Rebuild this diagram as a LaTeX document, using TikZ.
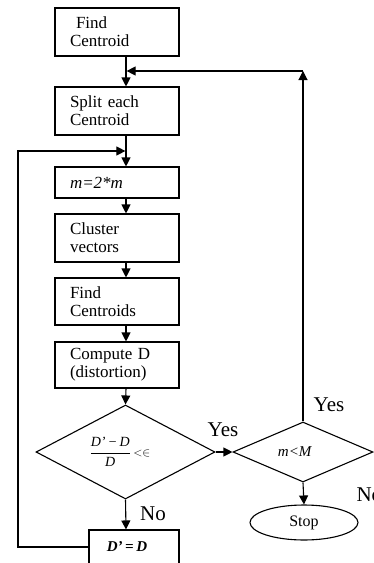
\documentclass[tikz,border=0pt]{standalone}
\usepackage{fontspec}
\setmainfont{Liberation Serif}
\usetikzlibrary{shapes.geometric,arrows.meta}
\begin{document}
\begin{tikzpicture}[x=1pt,y=-1pt,
  line width=1.1pt,
  arr/.style={-{Triangle[length=9pt,width=9pt]}},
  procbox/.style={draw, rectangle, text width=94pt, inner xsep=15pt, inner ysep=2pt, align=left,
    font=\fontsize{17}{18}\selectfont},
  decide/.style={draw, diamond, inner sep=0pt},
  termbox/.style={draw, ellipse, inner sep=0pt, minimum width=108pt, minimum height=35pt,
    font=\fontsize{16}{18}\selectfont},
  biglab/.style={font=\fontsize{21}{22}\selectfont, inner sep=0pt}
]
\useasboundingbox (0,0) rectangle (374,563);
\coordinate (ax) at (126,0);
\coordinate (tr) at (303,71);
\coordinate (tl) at (18,151);

\node[procbox, minimum height=48pt] (fc) at (117,32) {\hspace*{6pt}Find\\Centroid};
\node[procbox, minimum height=48pt] (sp) at (117,111) {Split each\\Centroid};
\node[procbox, minimum height=31pt] (mm) at (117,182.5) {\textit{m=2*m}};
\node[procbox, minimum height=48pt] (cl) at (117,238) {Cluster\\vectors};
\node[procbox, minimum height=47pt] (fcs) at (117,301.5) {Find\\Centroids};
\node[procbox, minimum height=46pt] (cd) at (117,365) {Compute D\\(distortion)};

\node[decide, minimum width=179pt, minimum height=94pt] (d1) at (125.5,452) {};
\node[inner sep=0pt, font=\fontsize{14}{16}\selectfont] (d1t) at (120,452)
  {$\displaystyle\frac{\mbox{\itshape D'\,−\,D}}{\mbox{\itshape D}}$\,{\fontsize{12}{14}\selectfont$<\in$}};

\node[decide, minimum width=140pt, minimum height=60pt] (d2) at (303,452) {};
\node[inner sep=0pt, font=\fontsize{15}{16}\selectfont] (d2t) at (295,452) {\textit{m<M}};

\node[termbox] (stop) at (304,522.5) {Stop};

\node[draw, rectangle, minimum width=90pt, minimum height=34pt, inner sep=0pt,
  font=\fontsize{15}{16}\selectfont] (dd) at (134,547) {\hspace*{-14pt}\textbf{\textit{D'\,=\,D}}};

\node[biglab] (yes1) at (223,430) {Yes};
\node[biglab] (yes2) at (329,405) {Yes};
\node[biglab] (no1) at (153,514) {No};
\node[biglab, anchor=west] (no2) at (356,495) {No};

\draw[arr] (fc.south -| ax) -- (sp.north -| ax);
\draw[arr] (sp.south -| ax) -- (mm.north -| ax);
\draw[arr] (mm.south -| ax) -- (cl.north -| ax);
\draw[arr] (cl.south -| ax) -- (fcs.north -| ax);
\draw[arr] (fcs.south -| ax) -- (cd.north -| ax);
\draw[arr] (cd.south -| ax) -- (d1.north);
\draw[arr] (d1.south) -- (dd.north -| ax);
\draw[arr] (d1.east) -- (d2.west);
\draw[arr] (d2.south) -- (stop.north);
\draw[arr] (d2.north) -- (tr);
\draw[arr, shorten >=0.6pt] (tr) -- (tr -| ax);
\draw[arr, shorten >=0.6pt] (dd.west) -| (tl) -- (tl -| ax);
\end{tikzpicture}
\end{document}
